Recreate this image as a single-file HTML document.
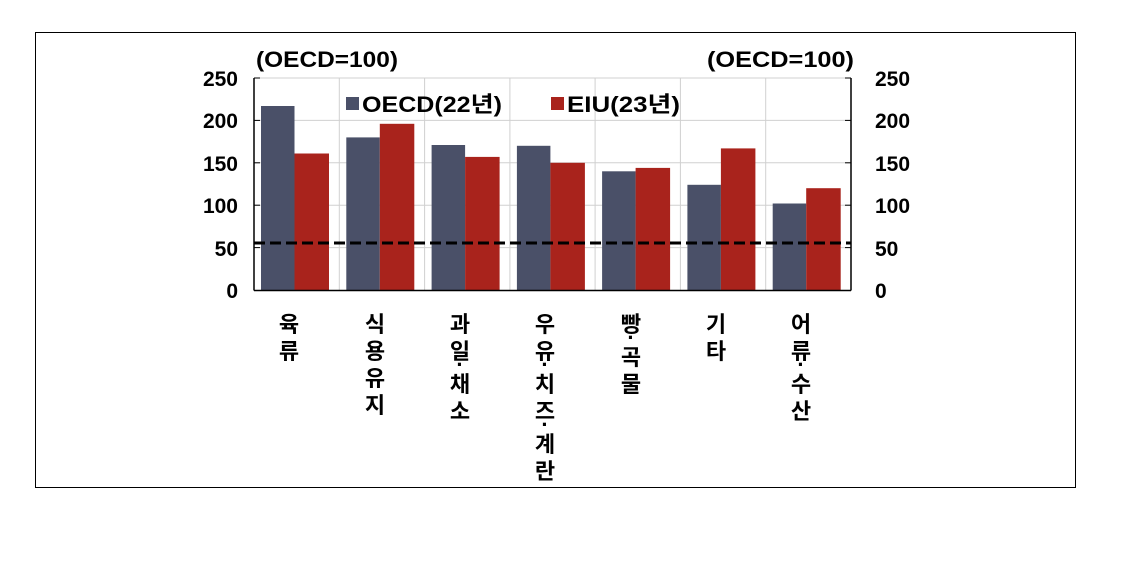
<!DOCTYPE html>
<html><head><meta charset="utf-8"><style>
body{margin:0;background:#fff;}
svg text{font-family:"Liberation Sans","Noto Sans CJK KR",sans-serif;font-weight:bold;fill:#000;}
</style></head><body>
<svg width="1125" height="564" xmlns="http://www.w3.org/2000/svg">
<rect x="35.5" y="32.5" width="1040" height="455" fill="#fff" stroke="#000" stroke-width="1"/>
<g stroke="#d0d0d0" stroke-width="1">
<line x1="254" x2="851" y1="78" y2="78"/><line x1="254" x2="851" y1="120.4" y2="120.4"/>
<line x1="254" x2="851" y1="162.8" y2="162.8"/><line x1="254" x2="851" y1="205.2" y2="205.2"/>
<line x1="254" x2="851" y1="247.6" y2="247.6"/>
<line x1="339.3" x2="339.3" y1="78" y2="290"/><line x1="424.6" x2="424.6" y1="78" y2="290"/>
<line x1="509.9" x2="509.9" y1="78" y2="290"/><line x1="595.1" x2="595.1" y1="78" y2="290"/>
<line x1="680.4" x2="680.4" y1="78" y2="290"/><line x1="765.7" x2="765.7" y1="78" y2="290"/>
</g>
<g fill="#4a5068">
<rect x="261" y="106" width="33.5" height="184"/>
<rect x="346.3" y="137.4" width="33.5" height="152.6"/>
<rect x="431.6" y="145" width="33.5" height="145"/>
<rect x="516.9" y="145.8" width="33.5" height="144.2"/>
<rect x="602.1" y="171.3" width="33.5" height="118.7"/>
<rect x="687.4" y="184.8" width="33.5" height="105.2"/>
<rect x="772.7" y="203.5" width="33.5" height="86.5"/>
</g>
<g fill="#a9231c">
<rect x="294.5" y="153.5" width="34.5" height="136.5"/>
<rect x="379.8" y="123.8" width="34.5" height="166.2"/>
<rect x="465.1" y="156.9" width="34.5" height="133.1"/>
<rect x="550.4" y="162.8" width="34.5" height="127.2"/>
<rect x="635.6" y="167.9" width="34.5" height="122.1"/>
<rect x="720.9" y="148.4" width="34.5" height="141.6"/>
<rect x="806.2" y="188.2" width="34.5" height="101.8"/>
</g>
<line x1="254" x2="851" y1="243" y2="243" stroke="#000" stroke-width="3" stroke-dasharray="11,5"/>
<g stroke="#000" stroke-width="1.5" fill="none">
<line x1="254" x2="254" y1="78" y2="290.5"/>
<line x1="851" x2="851" y1="78" y2="290.5"/>
<line x1="254" x2="851" y1="290.5" y2="290.5"/>
</g>
<g stroke="#000" stroke-width="1">
<line x1="254" x2="260" y1="78" y2="78"/><line x1="254" x2="260" y1="120.4" y2="120.4"/>
<line x1="254" x2="260" y1="162.8" y2="162.8"/><line x1="254" x2="260" y1="205.2" y2="205.2"/>
<line x1="254" x2="260" y1="247.6" y2="247.6"/>
<line x1="845" x2="851" y1="78" y2="78"/><line x1="845" x2="851" y1="120.4" y2="120.4"/>
<line x1="845" x2="851" y1="162.8" y2="162.8"/><line x1="845" x2="851" y1="205.2" y2="205.2"/>
<line x1="845" x2="851" y1="247.6" y2="247.6"/>
</g>
<g font-size="21" text-anchor="end">
<text x="238" y="86">250</text><text x="238" y="128">200</text><text x="238" y="171">150</text>
<text x="238" y="213">100</text><text x="238" y="256">50</text><text x="238" y="298">0</text>
</g>
<g font-size="21" text-anchor="start">
<text x="875" y="86">250</text><text x="875" y="128">200</text><text x="875" y="171">150</text>
<text x="875" y="213">100</text><text x="875" y="256">50</text><text x="875" y="298">0</text>
</g>
<text x="256" y="67" font-size="22" textLength="142" lengthAdjust="spacingAndGlyphs">(OECD=100)</text>
<text x="707" y="67" font-size="22" textLength="147" lengthAdjust="spacingAndGlyphs">(OECD=100)</text>
<rect x="346" y="97" width="13" height="13" fill="#4a5068"/>
<text x="362" y="112" font-size="22" textLength="140" lengthAdjust="spacingAndGlyphs">OECD(22년)</text>
<rect x="551" y="97" width="13" height="13" fill="#a9231c"/>
<text x="567" y="112" font-size="22" textLength="113" lengthAdjust="spacingAndGlyphs">EIU(23년)</text>
<g font-size="22" text-anchor="middle">
<text x="289" y="332">육</text><text x="289" y="359">류</text>
<text x="375" y="332">식</text><text x="375" y="359">용</text><text x="375" y="386">유</text><text x="375" y="413">지</text>
<text x="460" y="332">과</text><text x="460" y="359">일</text><text x="460" y="372">·</text><text x="460" y="392">채</text><text x="460" y="419">소</text>
<text x="545" y="332">우</text><text x="545" y="359">유</text><text x="545" y="372">·</text><text x="545" y="392">치</text><text x="545" y="419">즈</text><text x="545" y="432">·</text><text x="545" y="452">계</text><text x="545" y="479">란</text>
<text x="631" y="332">빵</text><text x="631" y="345">·</text><text x="631" y="365">곡</text><text x="631" y="392">물</text>
<text x="716" y="332">기</text><text x="716" y="359">타</text>
<text x="801" y="332">어</text><text x="801" y="359">류</text><text x="801" y="372">·</text><text x="801" y="392">수</text><text x="801" y="419">산</text>
</g>
</svg>
</body></html>
